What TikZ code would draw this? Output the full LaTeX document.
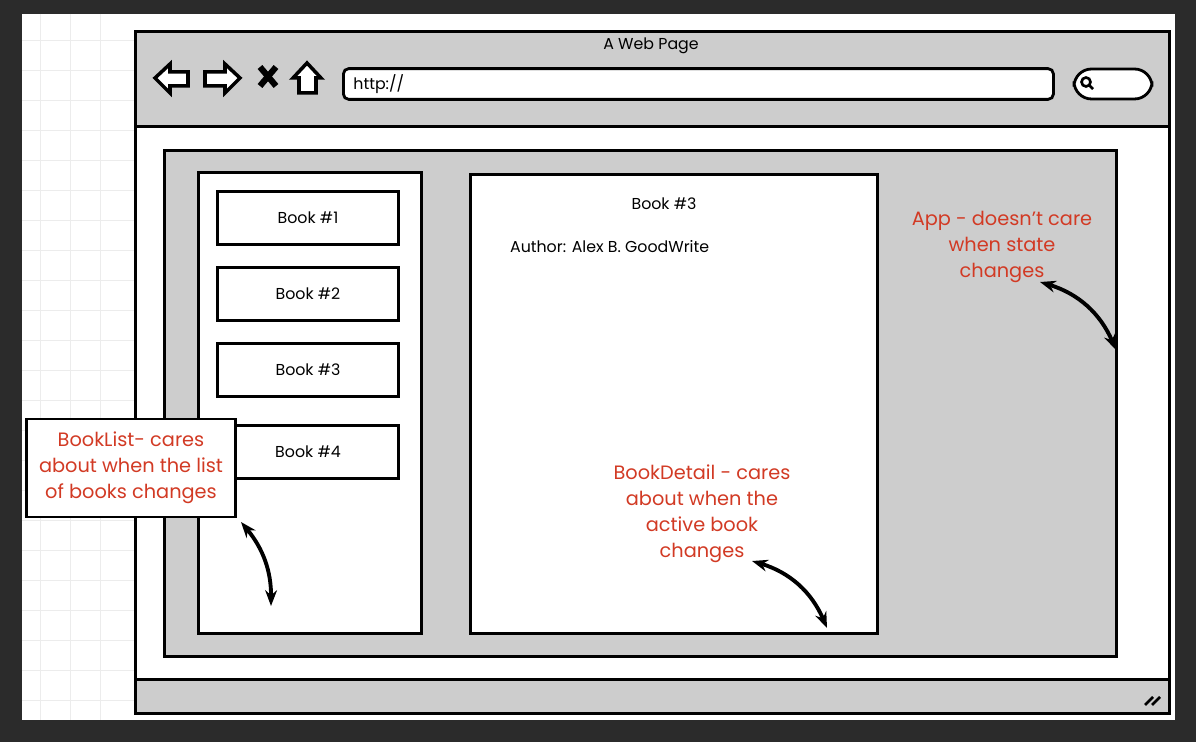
\documentclass[tikz,border=0pt]{standalone}
\usepackage{fontspec}
\setmainfont{Poppins}
\usetikzlibrary{arrows.meta, positioning}
\definecolor{panelgray}{HTML}{CDCDCD}
\definecolor{notered}{HTML}{D23A24}
\definecolor{frame}{HTML}{2B2B2B}

\begin{document}
\begin{tikzpicture}[x=0.02cm, y=-0.02cm, line width=1.4pt, font=\small]
  \tikzset{
    box/.style={draw, fill=white, line width=1.6pt},
    graybox/.style={draw, fill=panelgray, line width=1.6pt},
    note/.style={text=notered, align=center, font=\fontsize{11}{14.8}\selectfont},
    curly/.style={{Stealth[length=9pt]}-{Stealth[length=9pt]}, line width=2.2pt}
  }
  % Hintergrund und Raster
  \fill[frame] (0,0) rectangle (1196,742);
  \fill[white] (22,14) rectangle (1175,720);
  \foreach \gx in {40,70,100} {
    \draw[gray!15, line width=0.4pt] (\gx,14) -- (\gx,720);
  }
  \foreach \gy in {40,70,...,700} {
    \draw[gray!15, line width=0.4pt] (22,\gy) -- (134,\gy);
  }

  % Browserfenster
  \node[graybox, minimum width=1034*0.02cm, minimum height=95*0.02cm, anchor=north west] (header) at (134,30) {};
  \node[box, minimum width=1034*0.02cm, minimum height=553*0.02cm, anchor=north west] (page) at (134,125) {};
  \node[graybox, minimum width=1034*0.02cm, minimum height=34*0.02cm, anchor=north west] (footer) at (134,678) {};
  \node (title) at (651,46) {A Web Page};
  \node[box, rounded corners=3pt, minimum width=710*0.02cm, minimum height=24*0.02cm, anchor=west, text width=690*0.02cm] (url) at (342,84) {http://};
  \node[box, rounded corners=10pt, minimum width=78*0.02cm, minimum height=30*0.02cm] (search) at (1113,84) {};
  \draw[line width=1.5pt] (1086,82) circle (4.5) (1089,85) -- (1093,89);
  % Navigation
  \draw[line width=2pt, fill=white] (155,78) -- (170,64) -- (170,72) -- (188,72) -- (188,86) -- (170,86) -- (170,93) -- cycle;
  \draw[line width=2pt, fill=white] (240,78) -- (225,64) -- (225,72) -- (205,72) -- (205,86) -- (225,86) -- (225,93) -- cycle;
  \draw[line width=3.5pt] (260,67) -- (276,86) (276,67) -- (260,86);
  \draw[line width=2pt, fill=white] (293,78) -- (307,63) -- (321,78) -- (316,78) -- (316,93) -- (299,93) -- (299,78) -- cycle;
  \draw[line width=1.5pt] (1145,705) -- (1153,697) (1152,705) -- (1160,697);

  % Inhalt
  \node[graybox, minimum width=952*0.02cm, minimum height=506*0.02cm, anchor=north west] (app) at (163,149) {};
  \node[box, minimum width=223*0.02cm, minimum height=461*0.02cm, anchor=north west] (booklist) at (197,171) {};
  \node[box, minimum width=407*0.02cm, minimum height=459*0.02cm, anchor=north west] (bookdetail) at (469,173) {};
  \foreach \i/\by in {1/218, 2/294, 3/370, 4/452} {
    \node[box, minimum width=181*0.02cm, minimum height=53*0.02cm] (book\i) at (308,\by) {Book \#\i};
  }
  \node (detailtitle) at (664,204) {Book \#3};
  \node[anchor=west] (author) at (503,247) {Author: Alex B. GoodWrite};

  % Notizen
  \node[note] (appnote) at (1002,247) {App - doesn't care\\when state\\changes};
  \node[box, note, minimum width=209*0.02cm, minimum height=98*0.02cm] (listnote) at (131,468) {BookList- cares\\about when the list\\of books changes};
  \node[note] (detailnote) at (702,514) {BookDetail - cares\\about when the\\active book\\changes};
  \coordinate (append) at (1116,350);
  \coordinate (listend) at (271,606);
  \coordinate (detailend) at (827,628);
  \draw[curly] (1040,282) to[bend left=25] (append);
  \draw[curly] (241,522) to[bend left=20] (listend);
  \draw[curly] (752,561) to[bend left=25] (detailend);
\end{tikzpicture}
\end{document}
